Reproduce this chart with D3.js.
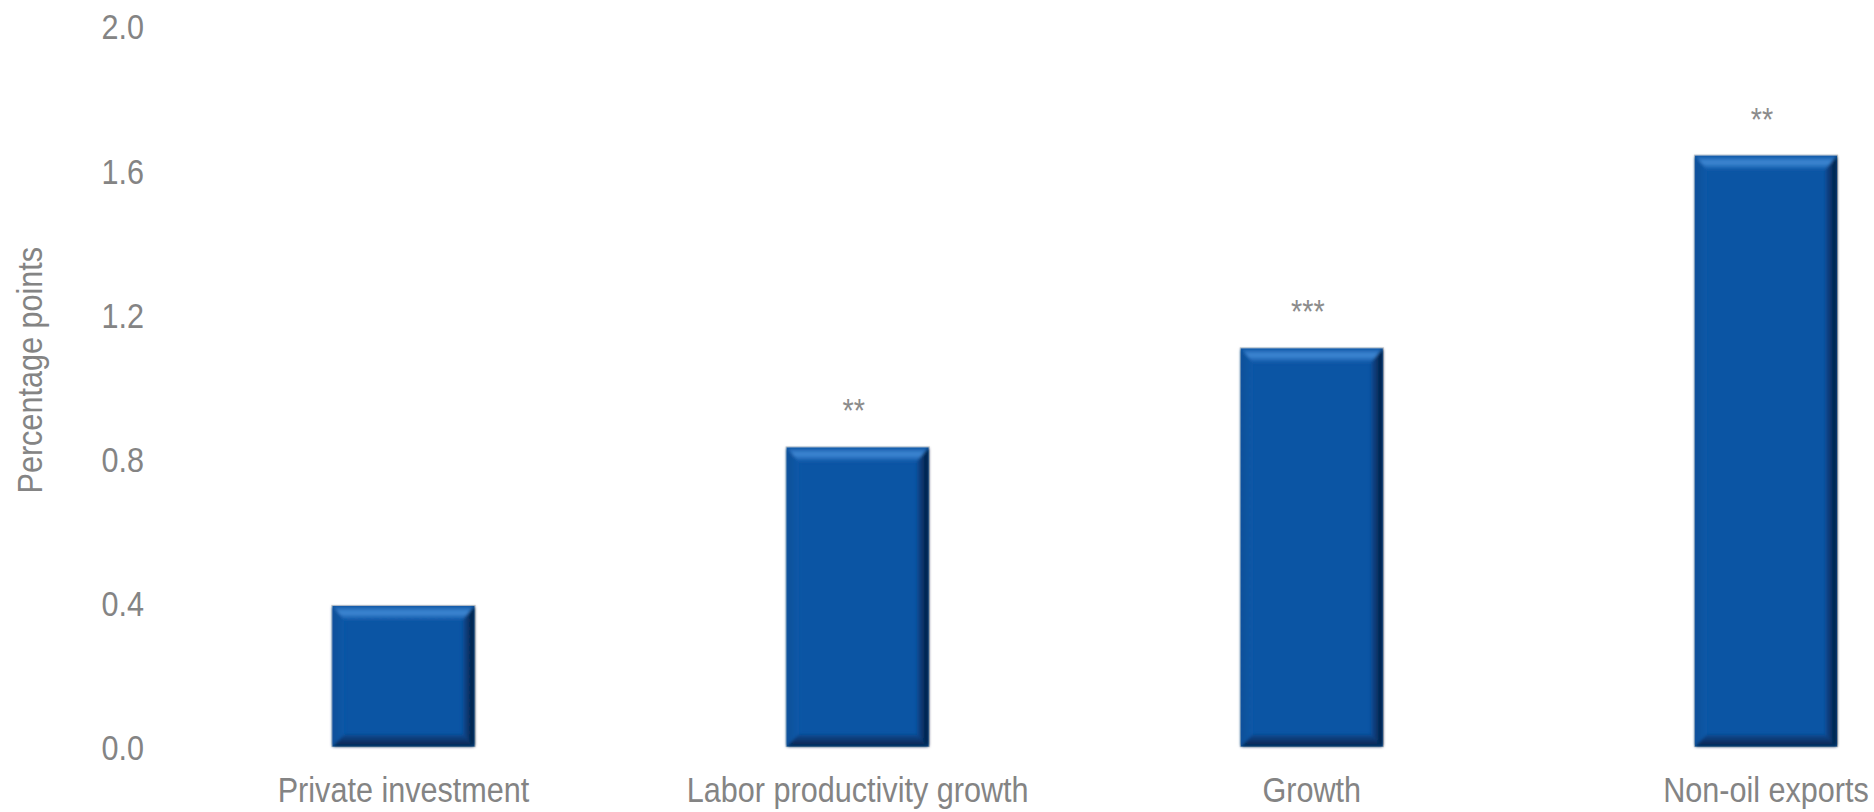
<!DOCTYPE html>
<html>
<head>
<meta charset="utf-8">
<script src="https://cdn.jsdelivr.net/npm/d3@7"></script>
<style>
  html, body { margin: 0; padding: 0; background: #ffffff; }
  svg { display: block; }
  text { font-family: "Liberation Sans", Arial, sans-serif; }
</style>
</head>
<body>
<svg id="chart" width="1874" height="812"></svg>
<script>
// Estimated effect sizes, in percentage points
const categories = ["Private investment", "Labor productivity growth", "Growth", "Non-oil exports"];
const values = [0.39, 0.83, 1.105, 1.64];
const significance = ["", "**", "***", "**"];
const yTicks = [0, 0.4, 0.8, 1.2, 1.6, 2.0];
const yTitle = "Percentage points";

const W = 1874, H = 812;
const svg = d3.select("#chart");
// horizontal squeeze giving a narrow sans look
const NARROW = 0.85;

const x = d3.scaleBand()
  .domain(categories)
  .range([176.4, 1993.1])
  .paddingInner(0.6874)
  .paddingOuter(0.3437);

const y = d3.scaleLinear().domain([0, 2]).range([746.5, 26]);

const textGray = "#848484";

// Gradients and soft blur for the bevelled bar look
const defs = svg.append("defs");
function linGrad(id, x1, y1, x2, y2, stops) {
  const g = defs.append("linearGradient").attr("id", id)
    .attr("x1", x1).attr("y1", y1).attr("x2", x2).attr("y2", y2);
  stops.forEach(([o, c]) => g.append("stop").attr("offset", o).attr("stop-color", c));
}
linGrad("bevTop", 0, 0, 0, 1, [[0, "#1d64b2"], [0.45, "#3f88d4"], [1, "#0e58a8"]]);
linGrad("bevRight", 0, 0, 1, 0, [[0, "#0a4d98"], [1, "#041a3a"]]);
linGrad("bevBottom", 0, 0, 0, 1, [[0, "#0a4a92"], [1, "#05224a"]]);
linGrad("bevLeft", 0, 0, 1, 0, [[0, "#0d4f98"], [1, "#0c58a8"]]);
defs.append("filter").attr("id", "soft").attr("x", "-10%").attr("y", "-10%").attr("width", "120%").attr("height", "120%")
  .append("feGaussianBlur").attr("stdDeviation", 1.8);

// Y tick labels (no axis line, no gridlines)
const yAxis = d3.axisLeft(y).tickValues(yTicks).tickFormat(d3.format(".1f")).tickSize(0).tickPadding(0);
const gy = svg.append("g").attr("transform", "translate(144,0)").call(yAxis);
gy.select(".domain").remove();
gy.selectAll("text")
  .attr("fill", textGray)
  .attr("transform", `scale(${NARROW},1)`)
  .style("font-size", "36px")
  .style("font-family", '"Liberation Sans", Arial, sans-serif')
  .attr("dy", "0.36em");

// Y axis title
svg.append("text")
  .attr("transform", `translate(42,${(y(0) + y(2)) / 2 - 16}) rotate(-90) scale(${NARROW},1)`)
  .attr("text-anchor", "middle")
  .attr("fill", textGray)
  .style("font-size", "36px")
  .text(yTitle);

// Bars
const bevel = 12;
const bars = svg.append("g").selectAll("g.bar")
  .data(categories.map((c, i) => ({ c, v: values[i], s: significance[i] })))
  .join("g").attr("class", "bar");

bars.each(function (d) {
  const g = d3.select(this);
  const x0 = x(d.c), x1 = x(d.c) + x.bandwidth();
  const y0 = y(d.v), y1 = y(0);
  const b = bevel;
  g.append("rect")
    .attr("x", x0 - 0.5).attr("y", y0 - 0.5)
    .attr("width", x1 - x0 + 1).attr("height", y1 - y0 + 0.5)
    .attr("fill", "none").attr("stroke", "#c9c9c9").attr("stroke-width", 1.2);
  g.append("rect")
    .attr("x", x0).attr("y", y0).attr("width", x1 - x0).attr("height", y1 - y0)
    .attr("fill", "#0b55a4");
  const bev = g.append("g").attr("filter", "url(#soft)");
  bev.append("polygon")
    .attr("points", [[x0, y0], [x0 + b, y0 + b], [x0 + b, y1 - b], [x0, y1]].join(" "))
    .attr("fill", "url(#bevLeft)");
  bev.append("polygon")
    .attr("points", [[x1, y0], [x1, y1], [x1 - b, y1 - b], [x1 - b, y0 + b]].join(" "))
    .attr("fill", "url(#bevRight)");
  bev.append("polygon")
    .attr("points", [[x0, y1], [x1, y1], [x1 - b, y1 - b], [x0 + b, y1 - b]].join(" "))
    .attr("fill", "url(#bevBottom)");
  bev.append("polygon")
    .attr("points", [[x0 + 1, y0 + 1], [x1 - 1, y0 + 1], [x1 - b, y0 + b + 2], [x0 + b, y0 + b + 2]].join(" "))
    .attr("fill", "url(#bevTop)");

  if (d.s) {
    g.append("text")
      .attr("transform", `translate(${(x0 + x1) / 2 - 4},${y0 - 25}) scale(${NARROW},1)`)
      .attr("text-anchor", "middle")
      .attr("fill", "#8c8c8c")
      .style("font-size", "34px")
      .text(d.s);
  }
});

// Category labels
svg.append("g").selectAll("text.cat")
  .data(categories)
  .join("text").attr("class", "cat")
  .attr("transform", d => `translate(${x(d) + x.bandwidth() / 2},802) scale(${NARROW},1)`)
  .attr("text-anchor", "middle")
  .attr("fill", textGray)
  .style("font-size", "36px")
  .text(d => d);
</script>
</body>
</html>
